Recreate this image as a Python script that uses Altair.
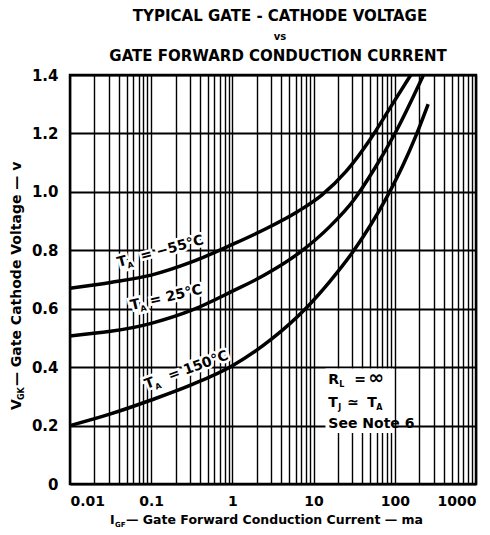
import altair as alt
import pandas as pd

# ---- data ----
x_m55 = [0.01, 0.0316, 0.1, 0.316, 1, 2.51, 6.31, 12.6, 25.1, 50.1, 89.1, 158]
y_m55 = [0.67, 0.69, 0.715, 0.76, 0.82, 0.872, 0.932, 0.989, 1.07, 1.181, 1.291, 1.401]

x_25 = [0.01, 0.1, 0.316, 1, 2.51, 7.08, 15.8, 31.6, 56.2, 100, 224]
y_25 = [0.507, 0.55, 0.595, 0.66, 0.716, 0.797, 0.881, 0.974, 1.079, 1.199, 1.3985]

x_150 = [0.01, 0.0316, 0.1, 0.316, 1, 3.16, 7.94, 15.8, 31.6, 79.4, 126, 178, 257]
y_150 = [0.2, 0.24, 0.2875, 0.34, 0.405, 0.5, 0.6, 0.693, 0.801, 0.981, 1.091, 1.1855, 1.30]

label_text = ["= \u221255\u00b0C", "= 25\u00b0C", "= 150\u00b0C"]
label_x = [0.0395, 0.057, 0.0873]
label_y = [0.743, 0.596, 0.325]
label_angle = [345, 347, 340]
label_gap = [24, 20, 25]

y_ticks = [0, 0.2, 0.4, 0.6, 0.8, 1.0, 1.2, 1.4]
x_grid = [m * 10.0 ** e for e in range(-2, 3) for m in range(1, 10)] + [1000]

title_lines = ["TYPICAL GATE - CATHODE VOLTAGE", "vs", "GATE FORWARD CONDUCTION CURRENT"]

FONT = "DejaVu Sans"

rows = []
for name, xs, ys in [("-55", x_m55, y_m55), ("25", x_25, y_25), ("150", x_150, y_150)]:
    for a, b in zip(xs, ys):
        rows.append({"series": name, "I": a, "V": b})
df = pd.DataFrame(rows)

xscale = alt.Scale(type="log", domain=[0.01, 1000], nice=False)
yscale = alt.Scale(domain=[0, 1.4], nice=False)

decade_expr = "abs(log(datum.value)/LN10 - round(log(datum.value)/LN10)) < 1e-6 ? format(datum.value, '~g') : ''"

lines = alt.Chart(df).mark_line(color="black", strokeWidth=3.5, interpolate="monotone").encode(
    x=alt.X("I:Q", scale=xscale, axis=alt.Axis(
        values=x_grid, title=None, grid=True, gridColor="black", gridOpacity=1, gridWidth=1.4,
        ticks=False, domain=False, labelOverlap=False,
        labelExpr=decade_expr,
        labelFont=FONT, labelFontWeight="bold", labelFontSize=14, labelColor="black", labelPadding=10)),
    y=alt.Y("V:Q", scale=yscale, axis=alt.Axis(
        values=y_ticks, title=None, grid=True, gridColor="black", gridOpacity=1, gridWidth=2,
        ticks=False, domain=False,
        labelExpr="datum.value == 0 ? '0' : format(datum.value, '.1f')",
        labelFont=FONT, labelFontWeight="bold", labelFontSize=15, labelColor="black", labelPadding=12)),
    detail="series:N",
)

note_bg = alt.Chart(pd.DataFrame({"x1": [14], "x2": [95], "y1": [0.175], "y2": [0.395]})).mark_rect(
    fill="white").encode(x=alt.X("x1:Q", scale=xscale), x2="x2:Q",
                          y=alt.Y("y1:Q", scale=yscale), y2="y2:Q")

halo_layers = []
text_layers = []


def piece(xv, yv, text, dx=0, dy=0, size=15, angle=0, align="left", baseline="alphabetic",
          px=False, halo=False):
    d = pd.DataFrame({"x": [xv], "y": [yv], "t": [text]})
    if px:
        enc = dict(x=alt.X("x:Q", scale=None), y=alt.Y("y:Q", scale=None), text="t:N")
    else:
        enc = dict(x=alt.X("x:Q", scale=xscale), y=alt.Y("y:Q", scale=yscale), text="t:N")
    kw = dict(font=FONT, fontWeight="bold", fontSize=size, align=align, baseline=baseline,
              dx=dx, dy=dy, angle=angle)
    if halo:
        halo_layers.append(alt.Chart(d).mark_text(color="white", stroke="white", strokeWidth=5,
                                                  **kw).encode(**enc))
    text_layers.append(alt.Chart(d).mark_text(color="black", **kw).encode(**enc))


# curve labels
for i in range(3):
    piece(label_x[i], label_y[i], "T", size=14, angle=label_angle[i], halo=True)
    piece(label_x[i], label_y[i], "A", dx=9, dy=4, size=8, angle=label_angle[i], halo=True)
    piece(label_x[i], label_y[i], label_text[i], dx=label_gap[i], size=14, angle=label_angle[i], halo=True)

# note
nx = 15.2
piece(nx, 0.342, "R", size=14)
piece(nx, 0.342, "L", dx=11, dy=3, size=8)
piece(nx, 0.342, "=", dx=26, size=14)
piece(nx, 0.342, "\u221e", dx=40, size=19)
piece(nx, 0.264, "T", size=14)
piece(nx, 0.264, "J", dx=10, dy=3, size=8)
piece(nx, 0.264, "\u2243", dx=19, size=14)
piece(nx, 0.264, "T", dx=39, size=14)
piece(nx, 0.264, "A", dx=48, dy=3, size=8)
piece(nx, 0.192, "See Note 6", size=14)

# titles (pixel positions relative to plot area)
piece(210, -59, title_lines[0], size=15, align="center", baseline="middle", px=True)
piece(210, -38, title_lines[1], size=10, align="center", baseline="middle", px=True)
piece(208, -19, title_lines[2], size=15, align="center", baseline="middle", px=True)
# y axis title
piece(-49, 335, "V", size=14, angle=270, px=True)
piece(-49, 335, "GK", dx=10, dy=3, size=8, angle=270, px=True)
piece(-49, 335, "\u2014 Gate Cathode Voltage \u2014 v", dx=24, size=14, angle=270, px=True)
# x axis title
piece(40, 449, "I", size=12.5, px=True)
piece(40, 449, "GF", dx=5, dy=3, size=7, px=True)
piece(40, 449, "\u2014 Gate Forward Conduction Current \u2014 ma", dx=16, size=12.5, px=True)

chart = alt.layer(note_bg, lines, *halo_layers, *text_layers).properties(
    width=406, height=409,
    autosize=alt.AutoSizeParams(type="none"),
    padding={"left": 62, "top": 67, "right": 6, "bottom": 50},
).configure_view(stroke="black", strokeWidth=2.5)

chart.save("out.html", embed_options={"renderer": "svg", "actions": False})
